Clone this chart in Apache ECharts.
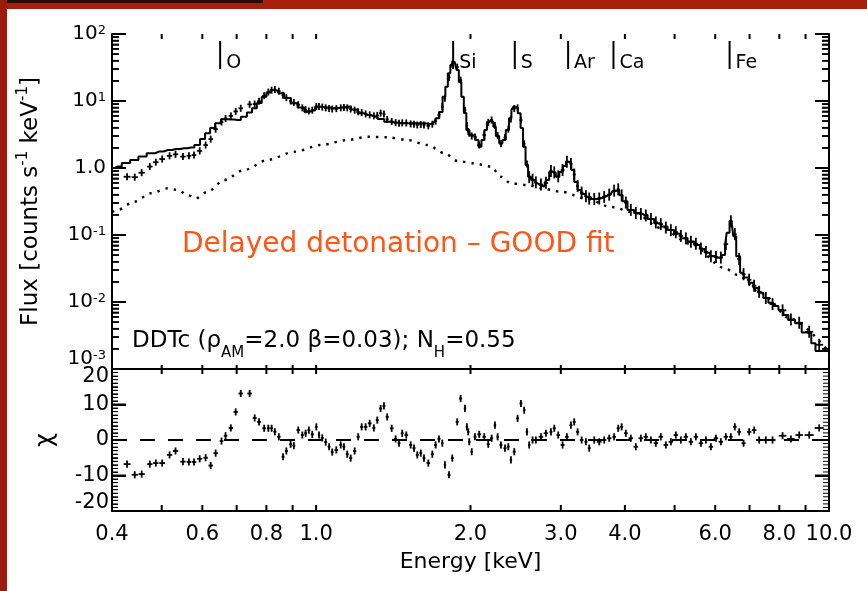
<!DOCTYPE html>
<html><head><meta charset="utf-8">
<script src="https://cdn.jsdelivr.net/npm/echarts@6/dist/echarts.min.js"></script>
<style>
html,body{margin:0;padding:0;background:#fff;width:867px;height:591px;overflow:hidden;}
#c,#t{position:absolute;left:0;top:0;width:867px;height:591px;}
#t{pointer-events:none;}
</style></head><body>
<div id="c"></div>
<div id="t"></div>
<script>
// ---- model (solid histogram) ----
const modelE = [0.400,0.410,0.426,0.442,0.459,0.476,0.494,0.514,0.533,0.553,
0.570,0.588,0.600,0.615,0.628,0.643,0.662,0.682,0.703,0.724,
0.742,0.758,0.775,0.792,0.808,0.823,0.839,0.854,0.879,0.907,
0.934,0.963,0.984,1.007,1.045,1.085,1.118,1.152,1.187,1.223,
1.260,1.298,1.338,1.378,1.420,1.463,1.530,1.601,1.660,1.700,
1.726,1.751,1.778,1.795,1.818,1.836,1.855,1.870,1.888,1.908,
1.931,1.951,1.975,2.004,2.034,2.059,2.087,2.115,2.143,2.163,
2.185,2.207,2.225,2.257,2.293,2.324,2.363,2.393,2.414,2.434,
2.458,2.489,2.519,2.545,2.577,2.603,2.647,2.703,2.744,2.785,
2.825,2.870,2.909,2.958,3.002,3.050,3.093,3.126,3.163,3.210,
3.258,3.320,3.384,3.481,3.592,3.690,3.756,3.812,3.871,3.929,
3.987,4.108,4.231,4.363,4.496,4.632,4.772,4.917,5.062,5.221,
5.380,5.544,5.665,5.799,5.925,6.064,6.154,6.247,6.294,6.342,
6.457,6.553,6.634,6.785,6.901,7.042,7.203,7.366,7.531,7.703,
7.878,8.058,8.241,8.428,8.748,8.946,9.149,9.323,9.500,9.788,
10.0];
const modelF = [1.00,1.05,1.19,1.32,1.49,1.66,1.76,1.86,1.92,1.97,
2.02,2.20,2.71,3.30,3.95,4.65,5.33,5.30,5.20,5.84,
6.73,7.78,9.33,11.6,13.4,14.6,14.4,13.0,11.1,9.25,
8.00,6.92,7.21,8.22,8.00,7.78,8.00,8.22,7.46,6.55,
6.18,5.84,5.38,4.91,4.77,4.65,4.65,4.65,4.54,4.86,
5.52,6.86,11.6,16.3,25.9,34.4,38.6,36.9,29.0,19.2,
11.6,6.62,3.69,3.11,2.93,2.62,2.08,2.62,3.69,4.86,
5.20,4.86,4.13,3.01,2.34,2.62,3.69,5.57,7.35,8.22,
7.87,6.55,3.95,2.08,1.11,0.741,0.662,0.591,0.557,0.526,
0.662,0.881,0.842,0.741,0.872,1.07,1.24,1.19,0.933,0.618,
0.470,0.409,0.369,0.344,0.356,0.382,0.409,0.454,0.470,0.395,
0.320,0.236,0.213,0.199,0.173,0.150,0.134,0.119,0.104,0.0893,
0.080,0.071,0.0618,0.0542,0.0486,0.0457,0.0462,0.0502,0.071,0.108,
0.161,0.096,0.0483,0.0273,0.0232,0.0194,0.0162,0.0137,0.0115,0.00973,
0.00871,0.0076,0.0064,0.00538,0.00481,0.00351,0.00344,0.00242,0.00185,0.00185,
0.00184];
// ---- continuum component (dotted) ----
const contE = [0.400,0.410,0.442,0.476,0.514,0.537,0.562,0.583,0.615,0.662,
0.724,0.805,0.907,1.022,1.152,1.260,1.378,1.508,1.650,1.778,
1.888,2.034,2.193,2.293,2.398,2.584,2.744,3.002,3.380,3.756,
4.164,4.700,5.380,6.247,6.634,7.366,8.428,10.0];
const contF = [0.220,0.236,0.314,0.419,0.498,0.470,0.395,0.353,0.443,0.662,
0.933,1.32,1.75,2.20,2.62,2.93,2.87,2.62,2.20,1.67,
1.27,1.17,1.05,0.741,0.591,0.557,0.498,0.443,0.344,0.262,
0.218,0.127,0.0734,0.0322,0.0253,0.0136,0.00557,0.00179];
// ---- data bins ----
const dataE = [0.428,0.443,0.457,0.474,0.487,0.501,0.518,0.532,0.550,0.565,
0.578,0.593,0.609,0.623,0.637,0.654,0.666,0.682,0.697,0.713,
0.742,0.759,0.774,0.792,0.807,0.819,0.831,0.846,0.862,0.875,
0.892,0.905,0.923,0.940,0.954,0.968,0.983,1.001,1.013,1.028,
1.044,1.060,1.075,1.095,1.117,1.133,1.150,1.168,1.189,1.208,
1.227,1.249,1.272,1.296,1.316,1.336,1.356,1.376,1.404,1.429,
1.451,1.472,1.499,1.529,1.552,1.575,1.600,1.623,1.655,1.685,
1.710,1.736,1.762,1.783,1.816,1.843,1.884,1.913,1.951,1.968,
1.980,1.989,2.011,2.041,2.080,2.127,2.166,2.199,2.232,2.259,
2.293,2.335,2.370,2.398,2.434,2.471,2.508,2.545,2.577,2.603,
2.643,2.682,2.744,2.806,2.870,2.913,2.965,3.024,3.083,3.139,
3.186,3.235,3.294,3.358,3.408,3.486,3.565,3.645,3.728,3.812,
3.882,3.942,4.017,4.108,4.201,4.297,4.394,4.496,4.596,4.700,
4.807,4.917,5.028,5.142,5.259,5.380,5.501,5.627,5.754,5.885,
6.020,6.154,6.294,6.437,6.553,6.681,6.814,6.987,7.146,7.309,
7.531,7.762,8.119,8.428,8.748,9.149,9.568];
const dataF = [0.74,0.73,0.85,1.05,1.22,1.36,1.52,1.60,1.48,1.52,
1.56,1.80,2.20,2.70,3.80,4.86,5.50,6.00,7.00,7.78,
8.90,9.00,9.90,12.0,13.6,14.5,14.8,14.0,12.2,11.2,
10.0,9.5,8.8,7.9,7.4,7.1,7.3,8.3,8.3,8.1,
7.9,7.7,7.6,7.7,7.9,8.0,7.9,7.6,7.3,6.9,
6.7,6.4,6.2,6.0,6.1,6.6,6.4,5.3,4.95,4.75,
4.65,4.72,4.70,4.55,4.50,4.40,4.45,4.40,4.25,4.50,
5.00,6.20,8.30,11.0,22.5,35.5,32.0,20.5,7.3,4.3,
3.5,3.3,3.0,2.9,2.2,3.1,4.8,5.2,4.3,3.05,
2.3,2.85,3.8,5.4,7.7,7.9,5.2,2.3,1.15,0.73,
0.67,0.61,0.565,0.60,0.90,0.86,0.75,0.93,1.24,1.15,
0.80,0.54,0.43,0.38,0.35,0.345,0.35,0.37,0.40,0.46,
0.48,0.39,0.305,0.237,0.213,0.206,0.196,0.173,0.154,0.145,
0.129,0.118,0.110,0.097,0.089,0.079,0.074,0.063,0.056,0.048,
0.047,0.046,0.073,0.160,0.103,0.044,0.026,0.0215,0.0175,0.0142,
0.0115,0.0093,0.0075,0.0055,0.0049,0.0036,0.0023];
// ---- residuals (chi) ----
const chi = [-6.8,-9.8,-9.6,-6.8,-6.5,-6.5,-4.2,-3.1,-6.1,-6.2,
-6.2,-5.3,-5.0,-7.2,-3.7,-0.3,1.2,3.4,7.9,13.1,
13.1,6.2,5.1,3.3,3.3,3.3,2.3,0.9,-4.7,-3.1,
-1.2,-1.6,2.8,1.4,1.9,2.8,1.6,3.7,1.4,0.6,
-0.6,-1.9,-3.4,-2.8,-1.4,-1.9,-4.0,-5.1,-3.1,0.9,
3.7,3.7,4.7,3.4,5.6,8.9,9.6,6.5,3.3,0.3,
-0.9,1.9,1.4,-1.4,-2.3,-4.2,-3.7,-5.1,-6.5,-4.0,
-1.4,0.3,-0.9,-7.0,-9.8,-5.1,5.1,11.7,8.9,3.7,
2.3,-0.5,-3.3,0.9,1.6,0.9,-1.2,0.5,4.2,0.9,
-1.4,-2.3,-1.9,-5.6,-3.3,6.1,10.3,8.4,2.3,-1.4,
0,0,0.9,1.9,2.3,3.3,1.4,-1.4,0.9,4.2,
5.1,2.3,0,-0.5,-2.3,0,-0.5,0,0.5,0.9,
3.3,3.7,1.9,0.5,-1.9,0.5,0.9,0,-0.9,0.9,
-1.4,-0.5,1.4,0,0.9,-0.5,0.9,-0.9,0,-1.9,
0.5,-0.5,0.9,0.9,3.7,2.3,-0.9,2.3,2.8,0,
0,0,1.2,0.3,1.4,1.4,3.4];
// ---- line identifications ----
const elemE = [0.65,1.85,2.44,3.10,3.80,6.40];
const elemName = ['O','Si','S','Ar','Ca','Fe'];
// ---- ticks / labels ----
const xTickValues = [0.5,0.6,0.7,0.8,0.9,1,2,3,4,5,6,7,8,9];
const xLabelValues = [0.4,0.6,0.8,1,2,3,4,6,8,10];
const yLabelValues = [0.001,0.01,0.1,1,10,100];
const yMinorTicks = [];
for (let k = -3; k <= 1; k++) for (let m = 2; m <= 9; m++) yMinorTicks.push(+(m * Math.pow(10, k)).toPrecision(3));
const chiMajorTicks = [-10, 0, 10];
const chiMinorTicks = [];
for (let v = -19; v <= 19; v++) chiMinorTicks.push(v);

const FONT = 'DejaVu Sans';
const BLACK = '#000';
const GRIDS = [
  { left: 112, top: 34, width: 717, height: 335, containLabel: false, outerBoundsMode: 'none' },
  { left: 112, top: 369, width: 717, height: 142, containLabel: false, outerBoundsMode: 'none' }
];

function xAx(grid, labels) {
  const a = {
    type: 'log', logBase: 10, gridIndex: grid, position: 'bottom', min: 0.4, max: 10,
    axisLine: { show: true, onZero: false, lineStyle: { color: BLACK, width: 2 } },
    axisTick: { show: false }, axisLabel: { show: false },
    splitLine: { show: false }, minorTick: { show: false }, minorSplitLine: { show: false }
  };
  if (labels) {
    a.axisLabel = { show: true, customValues: xLabelValues, formatter: v => (+v).toFixed(1),
      margin: 13, color: BLACK, fontSize: 21, fontFamily: FONT };
    a.name = 'Energy [keV]'; a.nameLocation = 'middle'; a.nameGap = 40;
    a.nameTextStyle = { color: BLACK, fontSize: 22, fontFamily: FONT };
  }
  return a;
}
function yLog(pos, labels) {
  const a = {
    type: 'log', logBase: 10, gridIndex: 0, position: pos, min: 0.001, max: 100,
    axisLine: { show: true, lineStyle: { color: BLACK, width: 2 } },
    axisTick: { show: false }, axisLabel: { show: false },
    splitLine: { show: false }, minorTick: { show: false }, minorSplitLine: { show: false }
  };
  if (labels) {
    a.axisLabel = {
      show: true, customValues: yLabelValues, margin: 6, verticalAlignMinLabel: 'bottom',
      formatter: function (v) {
        const e = Math.round(Math.log10(v));
        if (e === 0) return '{c|1.0}';
        return '{b|10}{s|' + e + '}';
      },
      rich: {
        c: { fontSize: 20, fontFamily: FONT, color: BLACK, lineHeight: 27 },
        b: { fontSize: 20, fontFamily: FONT, color: BLACK, lineHeight: 20, verticalAlign: 'bottom' },
        s: { fontSize: 13, fontFamily: FONT, color: BLACK, lineHeight: 13, verticalAlign: 'top', padding: [0, 0, 14, 0] }
      }
    };
    a.name = 'Flux [counts s{s|-1} keV{s|-1}]';
    a.nameLocation = 'middle'; a.nameGap = 66; a.nameRotate = 90;
    a.nameTextStyle = { color: BLACK, fontSize: 23, fontFamily: FONT, lineHeight: 30,
      rich: { s: { fontSize: 15, fontFamily: FONT, color: BLACK, lineHeight: 15, verticalAlign: 'top' } } };
  }
  return a;
}
function yChi(pos, labels) {
  const a = {
    type: 'value', gridIndex: 1, position: pos, min: -20, max: 20, interval: 10,
    axisLine: { show: true, onZero: false, lineStyle: { color: BLACK, width: 2 } },
    axisTick: { show: false }, minorTick: { show: false }, axisLabel: { show: false },
    splitLine: { show: false }, minorSplitLine: { show: false }
  };
  if (labels) {
    a.axisLabel = { show: true, color: BLACK, fontSize: 21, fontFamily: FONT, margin: 3, lineHeight: 16,
      verticalAlignMinLabel: 'bottom', verticalAlignMaxLabel: 'top' };
    a.name = 'χ'; a.nameLocation = 'middle'; a.nameGap = 54; a.nameRotate = 90;
    a.nameTextStyle = { color: BLACK, fontSize: 24, fontFamily: FONT };
  }
  return a;
}
function seg(x1, y1, x2, y2, w) {
  return { type: 'line', shape: { x1: x1, y1: y1, x2: x2, y2: y2 }, style: { stroke: BLACK, lineWidth: w } };
}
function makeCross(E, errFn, maxHalf, lw) {
  return function (params, api) {
    const i = params.dataIndex;
    const x = api.value(0), y = api.value(1);
    const p = api.coord([x, y]);
    let d = Infinity;
    if (i > 0) d = Math.min(d, p[0] - api.coord([E[i - 1], y])[0]);
    if (i < E.length - 1) d = Math.min(d, api.coord([E[i + 1], y])[0] - p[0]);
    const hw = Math.max(1.2, Math.min(maxHalf, d * 0.45));
    const v = errFn(api, x, y, p);
    return { type: 'group', children: [seg(p[0] - hw, p[1], p[0] + hw, p[1], lw), seg(p[0], v[0], p[0], v[1], lw)] };
  };
}

// ================= main chart: data, labels, annotations =================
const chart = echarts.init(document.getElementById('c'), null, { renderer: 'canvas' });
chart.setOption({
  animation: false,
  backgroundColor: '#fff',
  textStyle: { fontFamily: FONT },
  grid: GRIDS,
  xAxis: [xAx(0, false), xAx(1, true)],
  yAxis: [yLog('left', true), yLog('right', false), yChi('left', true), yChi('right', false)],
  series: [
    { type: 'line', name: 'model', xAxisIndex: 0, yAxisIndex: 0, step: 'middle', symbol: 'none',
      data: modelE.map((e, i) => [e, modelF[i]]), lineStyle: { color: BLACK, width: 2 }, z: 3 },
    { type: 'line', name: 'continuum', xAxisIndex: 0, yAxisIndex: 0, smooth: 0.3, smoothMonotone: 'x', symbol: 'none',
      data: contE.map((e, i) => [e, contF[i]]), lineStyle: { color: BLACK, width: 2.4, type: [2.4, 6], cap: 'butt' }, z: 2 },
    { type: 'custom', name: 'data', xAxisIndex: 0, yAxisIndex: 0, encode: { x: 0, y: 1 },
      data: dataE.map((e, i) => [e, dataF[i]]),
      renderItem: makeCross(dataE, (api, x, y, p) => { const h = x < 2.6 ? 3.5 : 6; return [p[1] - h, p[1] + h]; }, 4, 1.8), z: 4 },
    { type: 'custom', name: 'lines', xAxisIndex: 0, yAxisIndex: 0, encode: { x: 0, y: 1 },
      data: elemE.map(e => [e, 100]),
      renderItem: function (params, api) {
        const p = api.coord([api.value(0), api.value(1)]);
        return { type: 'group', children: [
          seg(p[0], p[1] + 7, p[0], p[1] + 35, 2),
          { type: 'text', style: { text: elemName[params.dataIndex], x: p[0] + 6, y: p[1] + 29, fill: BLACK,
              fontSize: 19, fontFamily: FONT, verticalAlign: 'middle', align: 'left' } }
        ] };
      }, z: 5 },
    { type: 'custom', name: 'chi', xAxisIndex: 1, yAxisIndex: 2, encode: { x: 0, y: 1 },
      data: dataE.map((e, i) => [e, chi[i]]),
      renderItem: makeCross(dataE, (api, x, y) => [api.coord([x, y - 1])[1], api.coord([x, y + 1])[1]], 4.5, 1.8),
      markLine: { silent: true, symbol: ['none', 'none'], label: { show: false },
        lineStyle: { color: BLACK, width: 2, type: [15, 13] }, data: [{ yAxis: 0 }] }, z: 4 }
  ],
  graphic: [
    { type: 'text', x: 182, y: 245, style: { text: 'Delayed detonation – GOOD fit', fill: '#ff5517',
        fontSize: 28, fontFamily: FONT, verticalAlign: 'middle' } },
    { type: 'text', x: 132, y: 341, style: { text: 'DDTc (ρ{s|AM}=2.0 β=0.03); N{s|H}=0.55', fill: BLACK,
        fontSize: 23, fontFamily: FONT, lineHeight: 40, verticalAlign: 'middle',
        rich: { s: { fontSize: 15, fontFamily: FONT, fill: BLACK, lineHeight: 15, verticalAlign: 'bottom' } } } }
  ]
});

// ================= overlay chart: same axes, carries tick marks and the slide frame =================
const tchart = echarts.init(document.getElementById('t'), null, { renderer: 'canvas' });
function tickAxisY(type, grid, pos, extra) {
  return Object.assign({
    type: type, gridIndex: grid, position: pos,
    axisLine: { show: false }, axisLabel: { show: false }, splitLine: { show: false }, minorSplitLine: { show: false }
  }, extra);
}
const logY = { logBase: 10, min: 0.001, max: 100 };
const chiY = { min: -20, max: 20, interval: 10 };
tchart.setOption({
  animation: false,
  backgroundColor: 'transparent',
  grid: GRIDS,
  xAxis: [
    { type: 'log', logBase: 10, gridIndex: 0, min: 0.4, max: 10, axisLine: { show: false }, axisTick: { show: false }, axisLabel: { show: false }, splitLine: { show: false } },
    { type: 'log', logBase: 10, gridIndex: 1, min: 0.4, max: 10, axisLine: { show: false }, axisTick: { show: false }, axisLabel: { show: false }, splitLine: { show: false } }
  ],
  yAxis: [
    tickAxisY('log', 0, 'left', Object.assign({ axisTick: { show: true, inside: true, length: 14, customValues: yLabelValues, lineStyle: { color: BLACK, width: 2 } } }, logY)),
    tickAxisY('log', 0, 'right', Object.assign({ axisTick: { show: true, inside: true, length: 14, customValues: yLabelValues, lineStyle: { color: BLACK, width: 2 } } }, logY)),
    tickAxisY('log', 0, 'left', Object.assign({ axisTick: { show: true, inside: true, length: 7, customValues: yMinorTicks, lineStyle: { color: BLACK, width: 1.5 } } }, logY)),
    tickAxisY('log', 0, 'right', Object.assign({ axisTick: { show: true, inside: true, length: 7, customValues: yMinorTicks, lineStyle: { color: BLACK, width: 1.5 } } }, logY)),
    tickAxisY('value', 1, 'left', Object.assign({ axisTick: { show: true, inside: true, length: 14, lineStyle: { color: BLACK, width: 2 } },
      minorTick: { show: true, splitNumber: 10, length: 6, lineStyle: { color: BLACK, width: 1 } } }, chiY)),
    tickAxisY('value', 1, 'right', Object.assign({ axisTick: { show: true, inside: true, length: 14, lineStyle: { color: BLACK, width: 2 } },
      minorTick: { show: true, splitNumber: 10, length: 6, lineStyle: { color: BLACK, width: 1 } } }, chiY))
  ],
  series: [
    { type: 'line', xAxisIndex: 0, yAxisIndex: 0, data: [[1, 1]], symbol: 'none', silent: true, lineStyle: { opacity: 0 } },
    { type: 'line', xAxisIndex: 1, yAxisIndex: 4, data: [[1, 0]], symbol: 'none', silent: true, lineStyle: { opacity: 0 } }
  ]
});
const tickG = [
  { type: 'rect', shape: { x: 0, y: 0, width: 867, height: 9 }, style: { fill: '#a81f0e' }, silent: true },
  { type: 'rect', shape: { x: 0, y: 0, width: 263, height: 3 }, style: { fill: '#2b0905' }, silent: true },
  { type: 'rect', shape: { x: 0, y: 0, width: 7, height: 591 }, style: { fill: '#9c1a0c' }, silent: true }
];
function px(xi, yi, x, y) { return tchart.convertToPixel({ xAxisIndex: xi, yAxisIndex: yi }, [x, y]); }
function gl(x1, y1, x2, y2, w) {
  tickG.push({ type: 'line', silent: true, shape: { x1: x1, y1: y1, x2: x2, y2: y2 }, style: { stroke: BLACK, lineWidth: w } });
}
function hbar(y, len, w, g) {
  // horizontal tick pair as thin filled rects at both edges of grid g
  if (!isFinite(y)) return;
  const L = GRIDS[g].left, R = GRIDS[g].left + GRIDS[g].width;
  tickG.push({ type: 'rect', silent: true, shape: { x: L, y: y - w / 2, width: len, height: w }, style: { fill: BLACK } });
  tickG.push({ type: 'rect', silent: true, shape: { x: R - len, y: y - w / 2, width: len, height: w }, style: { fill: BLACK } });
}
try {
  xTickValues.forEach(v => {
    const t = px(0, 0, v, 100), b = px(0, 0, v, 0.001);
    gl(t[0], t[1], t[0], t[1] + 5, 2); gl(b[0], b[1] - 4, b[0], b[1], 2);
    const t2 = px(1, 4, v, 20), b2 = px(1, 4, v, -20);
    gl(t2[0], t2[1], t2[0], t2[1] + 5, 2); gl(b2[0], b2[1] - 6, b2[0], b2[1], 2);
  });
  yLabelValues.forEach(v => hbar(px(0, 0, 1, v)[1], 14, 2, 0));
  yMinorTicks.forEach(v => hbar(px(0, 0, 1, v)[1], 7, 1.5, 0));
  chiMajorTicks.forEach(v => hbar(px(1, 4, 1, v)[1], 14, 2, 1));
  chiMinorTicks.forEach(v => hbar(px(1, 4, 1, v)[1], 6, 1, 1));
} catch (e) { /* keep whatever ticks were built */ }
tchart.setOption({ graphic: tickG });
</script></body></html>
